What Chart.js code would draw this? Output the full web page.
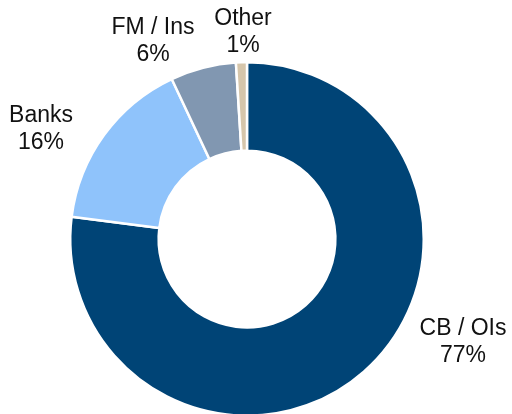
<!DOCTYPE html>
<html>
<head>
<meta charset="utf-8">
<script src="https://cdn.jsdelivr.net/npm/chart.js@4/dist/chart.umd.min.js"></script>
<style>
  html, body { margin: 0; padding: 0; background: #fff; overflow: hidden; }
  #wrap { width: 512px; height: 430px; position: relative; }
</style>
</head>
<body>
<div id="wrap"><canvas id="chart"></canvas></div>
<script>
const categories = ['CB / OIs', 'Banks', 'FM / Ins', 'Other'];
const shares = [77, 16, 6, 1];
const sliceColors = ['#004476', '#8fc3fb', '#8197b1', '#d6c6ab'];

// label anchor offsets from the doughnut centre (px)
const labelOffsets = [[216, 90], [-206, -123], [-94, -211], [-4, -220]];

const labelPlugin = {
    id: 'sliceLabels',
    afterDatasetsDraw(chart) {
        const ctx = chart.ctx;
        const arc = chart.getDatasetMeta(0).data[0];
        const cx = arc.x;
        const cy = arc.y;
        ctx.save();
        ctx.font = '23px "Liberation Sans", Arial, sans-serif';
        ctx.fillStyle = '#111111';
        ctx.textAlign = 'center';
        ctx.textBaseline = 'middle';
        categories.forEach((name, i) => {
            const x = cx + labelOffsets[i][0];
            const y = cy + labelOffsets[i][1];
            ctx.fillText(name, x, y);
            ctx.fillText(shares[i] + '%', x, y + 27);
        });
        ctx.restore();
    },
};

new Chart(document.getElementById('chart'), {
    type: 'doughnut',
    data: {
        labels: categories,
        datasets: [{
            data: shares,
            backgroundColor: sliceColors,
            borderColor: '#ffffff',
            borderWidth: 2.5,
        }],
    },
    options: {
        responsive: true,
        maintainAspectRatio: false,
        animation: false,
        cutout: '50%',
        layout: { padding: { left: 69, right: 87, top: 61, bottom: 13 } },
        plugins: {
            legend: { display: false },
            tooltip: { enabled: false },
        },
    },
    plugins: [labelPlugin],
});
</script>
</body>
</html>
